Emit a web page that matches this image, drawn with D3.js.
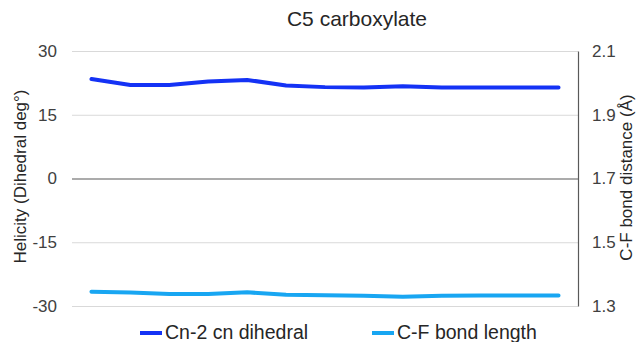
<!DOCTYPE html>
<html>
<head>
<meta charset="utf-8">
<script src="https://cdn.jsdelivr.net/npm/d3@7"></script>
<style>
  html, body { margin: 0; padding: 0; background: #fff; }
  svg { display: block; font-family: "Liberation Sans", Arial, sans-serif; }
</style>
</head>
<body>
<svg id="chart" width="638" height="342"></svg>
<script>
// Frame index along the trajectory
const frames = d3.range(1, 14);
// Cn-2 cn dihedral (degrees), left axis
const dihedral = [23.4, 22.0, 22.0, 22.8, 23.2, 21.9, 21.5, 21.4, 21.7, 21.4, 21.4, 21.4, 21.4];
// C-F bond length (Å), right axis
const bondLength = [1.345, 1.342, 1.338, 1.338, 1.343, 1.335, 1.334, 1.332, 1.329, 1.332, 1.333, 1.333, 1.333];
const leftTicks = [-30, -15, 0, 15, 30];
const rightTicks = [1.3, 1.5, 1.7, 1.9, 2.1];

const W = 638, H = 342;
const m = { top: 51, right: 60, bottom: 36, left: 72 };
const svg = d3.select("#chart");
const font = "Liberation Sans, Arial, sans-serif";

const x = d3.scaleBand().domain(frames).range([m.left, W - m.right]);
const yL = d3.scaleLinear().domain([-30, 30]).range([H - m.bottom, m.top]);
const yR = d3.scaleLinear().domain([1.3, 2.1]).range([H - m.bottom, m.top]);
const cx = d => x(d) + x.bandwidth() / 2;
const midY = (m.top + H - m.bottom) / 2;

// Gridlines
const grid = svg.append("g")
  .attr("transform", `translate(${m.left},0)`)
  .call(d3.axisLeft(yL).tickValues(leftTicks).tickSize(-(W - m.right - m.left)).tickFormat(""));
grid.select(".domain").remove();
grid.selectAll(".tick line")
  .attr("stroke", d => d === 0 ? "#595959" : "#d9d9d9")
  .attr("stroke-width", d => d === 0 ? 1.2 : 1);

// Left tick labels (plain hyphen for negatives)
const axL = svg.append("g")
  .attr("transform", `translate(${m.left},0)`)
  .call(d3.axisLeft(yL).tickValues(leftTicks).tickSize(0).tickPadding(15).tickFormat(d => String(d)));
axL.select(".domain").remove();
axL.selectAll("text").attr("font-size", 17).attr("fill", "#404040").attr("font-family", font);

// Right axis
const axR = svg.append("g")
  .attr("transform", `translate(${W - m.right},0)`)
  .call(d3.axisRight(yR).tickValues(rightTicks).tickSize(0).tickPadding(14).tickFormat(d3.format(".1f")));
axR.select(".domain").attr("stroke", "#595959").attr("stroke-width", 1.2);
axR.selectAll("text").attr("font-size", 17).attr("fill", "#404040").attr("font-family", font);

// Series lines
const lineL = d3.line().x((d, i) => cx(frames[i])).y(d => yL(d));
const lineR = d3.line().x((d, i) => cx(frames[i])).y(d => yR(d));
const darkBlue = "#1432f5", lightBlue = "#18a6f2";

svg.append("path").datum(bondLength)
  .attr("d", lineR).attr("fill", "none").attr("stroke", lightBlue)
  .attr("stroke-width", 4).attr("stroke-linejoin", "round").attr("stroke-linecap", "round");
svg.append("path").datum(dihedral)
  .attr("d", lineL).attr("fill", "none").attr("stroke", darkBlue)
  .attr("stroke-width", 4).attr("stroke-linejoin", "round").attr("stroke-linecap", "round");

// Title
svg.append("text").attr("x", 357).attr("y", 26).attr("text-anchor", "middle")
  .attr("font-size", 21).attr("fill", "#262626").text("C5 carboxylate");

// Axis titles
svg.append("text").attr("transform", `translate(25.5,${midY - 2}) rotate(-90)`)
  .attr("text-anchor", "middle").attr("font-size", 17).attr("fill", "#262626")
  .text("Helicity (Dihedral deg°)");
svg.append("text").attr("transform", `translate(632,${midY - 1}) rotate(-90)`)
  .attr("text-anchor", "middle").attr("font-size", 17).attr("fill", "#262626")
  .text("C-F bond distance (Å)");

// Legend
const legend = [
  { name: "Cn-2 cn dihedral", color: darkBlue, x: 140 },
  { name: "C-F bond length", color: lightBlue, x: 372 }
];
const lg = svg.append("g").selectAll("g").data(legend).join("g")
  .attr("transform", d => `translate(${d.x},333)`);
lg.append("line").attr("x1", 0).attr("x2", 22).attr("stroke", d => d.color).attr("stroke-width", 4);
lg.append("text").attr("x", 25).attr("y", 6).attr("font-size", 19.5).attr("fill", "#262626")
  .text(d => d.name);
</script>
</body>
</html>
